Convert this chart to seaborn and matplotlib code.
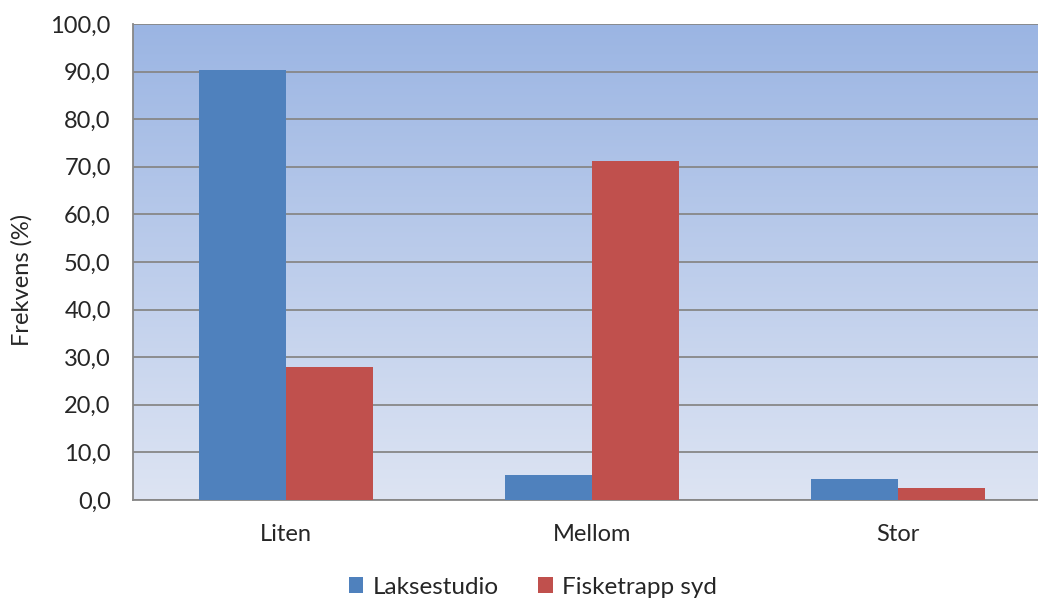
import numpy as np
import pandas as pd
import matplotlib
matplotlib.use("Agg")
import matplotlib.pyplot as plt
import seaborn as sns
from matplotlib.colors import LinearSegmentedColormap
from matplotlib.ticker import FuncFormatter

categories = ["Liten", "Mellom", "Stor"]
series = ["Laksestudio", "Fisketrapp syd"]
laksestudio = [90.3, 5.2, 4.5]
fisketrapp = [28.0, 71.2, 2.6]
colors = ["#4F81BD", "#C0504D"]

df = pd.DataFrame({
    "Størrelse": categories * 2,
    "Frekvens": laksestudio + fisketrapp,
    "Serie": [series[0]] * 3 + [series[1]] * 3,
})

sns.set_style("white")
plt.rcParams["font.family"] = ["Lato", "DejaVu Sans"]

fig = plt.figure(figsize=(10.38, 6.01), dpi=100)
ax = fig.add_axes([133 / 1038, 1 - 500 / 601, 918 / 1038, 476 / 601])

# gradient background
grad = LinearSegmentedColormap.from_list("bg", ["#DDE4F3", "#9BB5E3"])
ax.imshow(np.linspace(0, 1, 256).reshape(-1, 1), cmap=grad, origin="lower",
          extent=[0, 1, 0, 1], transform=ax.transAxes, aspect="auto", zorder=0)

sns.barplot(data=df, x="Størrelse", y="Frekvens", hue="Serie", palette=colors,
            width=0.57, saturation=1, linewidth=0, ax=ax, zorder=3)

ax.set_ylim(0, 100)
ax.set_xlim(-0.5, 2.5)
ax.set_yticks(np.arange(0, 101, 10))
ax.yaxis.set_major_formatter(FuncFormatter(lambda v, p: f"{v:.1f}".replace(".", ",")))
ax.grid(axis="y", color="#878787", linewidth=1.3, zorder=1)
ax.set_axisbelow(True)

ax.set_xticks([0, 1, 2])
ax.set_xticks([-0.5, 0.5, 1.5, 2.5], minor=True)
ax.tick_params(axis="x", which="major", length=0, labelsize=17, pad=17)
ax.tick_params(axis="x", which="minor", length=6, width=1.3, color="#878787")
ax.tick_params(axis="y", length=6, width=1.3, color="#878787", labelsize=17, pad=10)

for s in ["top", "right"]:
    ax.spines[s].set_visible(False)
for s in ["left", "bottom"]:
    ax.spines[s].set_color("#878787")
    ax.spines[s].set_linewidth(1.3)

ax.set_xlabel("")
ax.set_ylabel("")
fig.text(22 / 1038, 1 - 280 / 601, "Frekvens (%)", rotation=90,
         ha="center", va="center", fontsize=17)

ax.legend(loc="center", bbox_to_anchor=(533 / 1038, 1 - 587 / 601),
          bbox_transform=fig.transFigure, ncol=2, frameon=False,
          fontsize=17.5, handlelength=0.6, handleheight=0.6,
          handletextpad=0.4, columnspacing=1.6)

fig.savefig("out.png", dpi=100)
